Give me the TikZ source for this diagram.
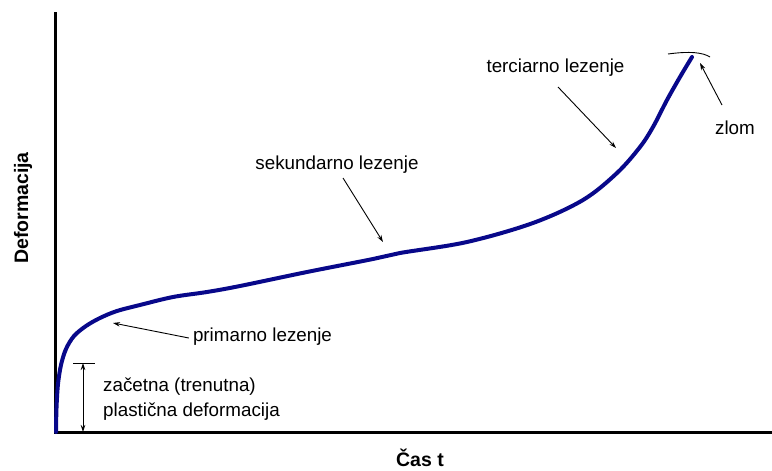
\documentclass[tikz,border=0pt]{standalone}
\usepackage{fontspec}
\setmainfont{Liberation Sans}
\usetikzlibrary{arrows.meta}
\definecolor{curveblue}{RGB}{8,8,138}
\tikzset{
  lbl/.style={inner sep=0pt, font=\fontsize{18.8}{25}\selectfont},
  axlbl/.style={inner sep=0pt, font=\fontsize{19.5}{24}\selectfont\bfseries},
  pointer/.style={line width=0.9pt, -{Stealth[length=7pt,width=4.5pt]}},
  axisline/.style={line width=2.4pt},
}
\begin{document}
\begin{tikzpicture}[x=1pt,y=-1pt]
\useasboundingbox (0,0) rectangle (772,471);
% axes
\coordinate (ytop) at (55.5,12);
\coordinate (orig) at (55.5,432.5);
\coordinate (xend) at (772,432.5);
\draw[axisline] (ytop) -- (orig) -- (xend);
% curve
\draw[curveblue, line width=4pt, line cap=round, line join=round]
  plot[smooth, tension=0.55] coordinates {
  (56,432) (56.5,408) (58,384) (61,365) (66,349) (74,336) (86,326) (100,318)
  (117,311) (140,305) (173,297) (207,292) (240,286) (307,272) (373,259)
  (400,253) (467,242) (533,223) (583,200) (617,173) (640,147) (653,127)
  (667,100) (680,77) (692,57)};
% fracture mark
\coordinate (fa) at (668,54);
\coordinate (fb) at (710,57);
\draw[line width=0.9pt] (fa) .. controls (690,51) and (703,52.5) .. (fb);
% labels
\node[axlbl, rotate=90] (ylab) at (23,208) {Deformacija};
\node[axlbl] (xlab) at (420,458) {Čas t};
\node[lbl] (prim) at (262.5,337) {primarno lezenje};
\node[lbl] (sek) at (337,165) {sekundarno lezenje};
\node[lbl] (ter) at (555.5,68) {terciarno lezenje};
\node[lbl] (zlom) at (735,128) {zlom};
\node[lbl, align=left, anchor=west] (zac) at (103,399.5) {začetna (trenutna)\\plastična deformacija};
% pointer targets
\coordinate (tprim) at (113,323);
\coordinate (tsek) at (383,242);
\coordinate (tter) at (616,148);
\coordinate (tzlom) at (700,63);
\draw[pointer] (prim.west) ++(-4,1) -- (tprim);
\draw[pointer] (343,178) -- (tsek);
\draw[pointer] (558,87) -- (tter);
\draw[pointer] (722,105) -- (tzlom);
% initial deformation
\coordinate (tickl) at (73,363);
\coordinate (tickr) at (95,363);
\draw[line width=0.9pt] (tickl) -- (tickr);
\coordinate (da) at (83,363);
\coordinate (db) at (83,432);
\draw[line width=0.9pt, {Stealth[length=7pt,width=4.5pt]}-{Stealth[length=7pt,width=4.5pt]}] (da) -- (db);
\end{tikzpicture}
\end{document}
